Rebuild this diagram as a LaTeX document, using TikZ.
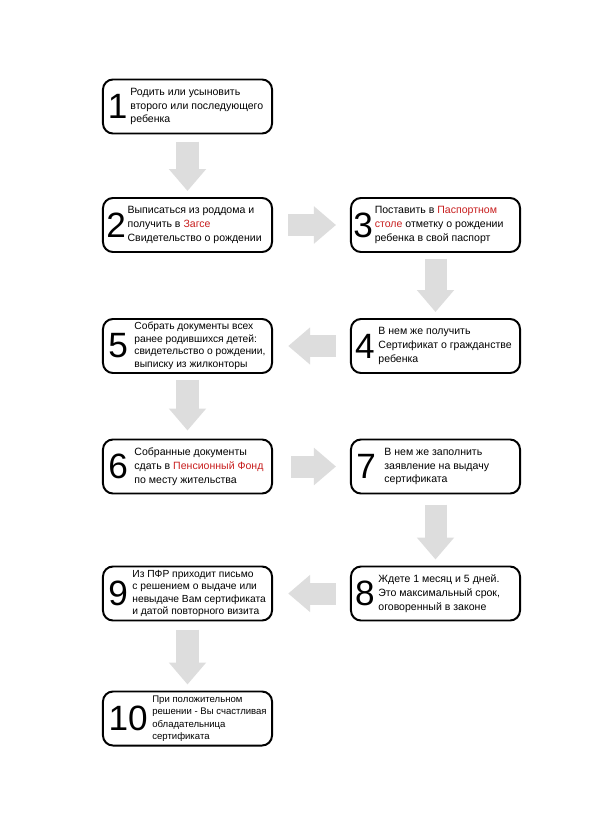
\documentclass[tikz,border=0pt]{standalone}
\usepackage{fontspec}
\setmainfont{Liberation Sans}
\usetikzlibrary{positioning,arrows.meta}
\definecolor{flowgray}{RGB}{221,221,221}
\definecolor{hlred}{RGB}{200,30,30}
\newcommand{\hl}[1]{\textcolor{hlred}{#1}}
\tikzset{
  stepbox/.style={draw, line width=1.4pt, rounded corners=0.25cm,
    minimum width=4.225cm, minimum height=1.35cm, fill=white},
  num/.style={anchor=west, inner sep=0pt, font=\fontsize{25}{25}\selectfont},
  txt/.style={align=left, inner sep=0pt, font=\fontsize{7.5}{9.8}\selectfont},
  txtfour/.style={txt, font=\fontsize{7.3}{8.9}\selectfont},
  flow/.style={flowgray, line width=0.55cm,
    -{Triangle[width=0.9cm,length=0.55cm]}}
}
\begin{document}
\begin{tikzpicture}[x=0.025cm, y=-0.025cm]
\useasboundingbox[fill=white] (0,0) rectangle (616,815);
% boxes
\node[stepbox] (b1) at (187.5,106.5) {};
\node[stepbox] (b2) at (187.5,225) {};
\node[stepbox] (b3) at (435.5,225) {};
\node[stepbox] (b4) at (435.5,346) {};
\node[stepbox] (b5) at (187.5,346) {};
\node[stepbox] (b6) at (187.5,466.5) {};
\node[stepbox] (b7) at (435.5,466.5) {};
\node[stepbox] (b8) at (435.5,593.5) {};
\node[stepbox] (b9) at (187.5,593.5) {};
\node[stepbox] (b10) at (187.5,718.5) {};
% numbers and texts
\node[num] (n1) at ([xshift=0.14cm]b1.west) {1};
\node[txt, right=0.06cm of n1] (t1) {Родить или усыновить\\второго или последующего\\ребенка};
\node[num] (n2) at ([xshift=0.1cm]b2.west) {2};
\node[txt, right=0.03cm of n2] (t2) {Выписаться из роддома и\\получить в \hl{Загсе}\\Свидетельство о рождении};
\node[num] (n3) at ([xshift=0.08cm]b3.west) {3};
\node[txt, right=0.03cm of n3] (t3) {Поставить в \hl{Паспортном}\\\hl{столе} отметку о рождении\\ребенка в свой паспорт};
\node[num] (n4) at ([xshift=0.12cm]b4.west) {4};
\node[txt, right=0.08cm of n4] (t4) {В нем же получить\\Сертификат о гражданстве\\ребенка};
\node[num] (n5) at ([xshift=0.15cm]b5.west) {5};
\node[txtfour, right=0.15cm of n5] (t5) {Собрать документы всех\\ранее родившихся детей:\\свидетельство о рождении,\\выписку из жилконторы};
\node[num] (n6) at ([xshift=0.15cm]b6.west) {6};
\node[txt, right=0.15cm of n6] (t6) {Собранные документы\\сдать в \hl{Пенсионный Фонд}\\по месту жительства};
\node[num] (n7) at ([xshift=0.15cm]b7.west) {7};
\node[txt, right=0.2cm of n7] (t7) {В нем же заполнить\\заявление на выдачу\\сертификата};
\node[num] (n8) at ([xshift=0.12cm]b8.west) {8};
\node[txt, right=0.08cm of n8] (t8) {Ждете 1 месяц и 5 дней.\\Это максимальный срок,\\оговоренный в законе};
\node[num] (n9) at ([xshift=0.15cm]b9.west) {9};
\node[txtfour, right=0.1cm of n9] (t9) {Из ПФР приходит письмо\\с решением о выдаче или\\невыдаче Вам сертификата\\и датой повторного визита};
\node[num] (n10) at ([xshift=0.16cm]b10.west) {10};
\node[txtfour, right=0.1cm of n10, font=\fontsize{6.8}{8.9}\selectfont] (t10) {При положительном\\решении - Вы счастливая\\обладательница\\сертификата};
% arrows
\draw[flow, shorten <=0.18cm, shorten >=0.15cm] (b1) -- (b2);
\draw[flow, shorten <=0.38cm, shorten >=0.35cm] (b2) -- (b3);
\draw[flow, shorten <=0.15cm, shorten >=0.15cm] (b3) -- (b4);
\draw[flow, shorten <=0.35cm, shorten >=0.38cm] (b4) -- (b5);
\draw[flow, shorten <=0.15cm, shorten >=0.2cm] (b5) -- (b6);
\draw[flow, shorten <=0.45cm, shorten >=0.35cm] (b6) -- (b7);
\draw[flow, shorten <=0.25cm, shorten >=0.15cm] (b7) -- (b8);
\draw[flow, shorten <=0.35cm, shorten >=0.38cm] (b8) -- (b9);
\draw[flow, shorten <=0.2cm, shorten >=0.15cm] (b9) -- (b10);
\end{tikzpicture}
\end{document}
